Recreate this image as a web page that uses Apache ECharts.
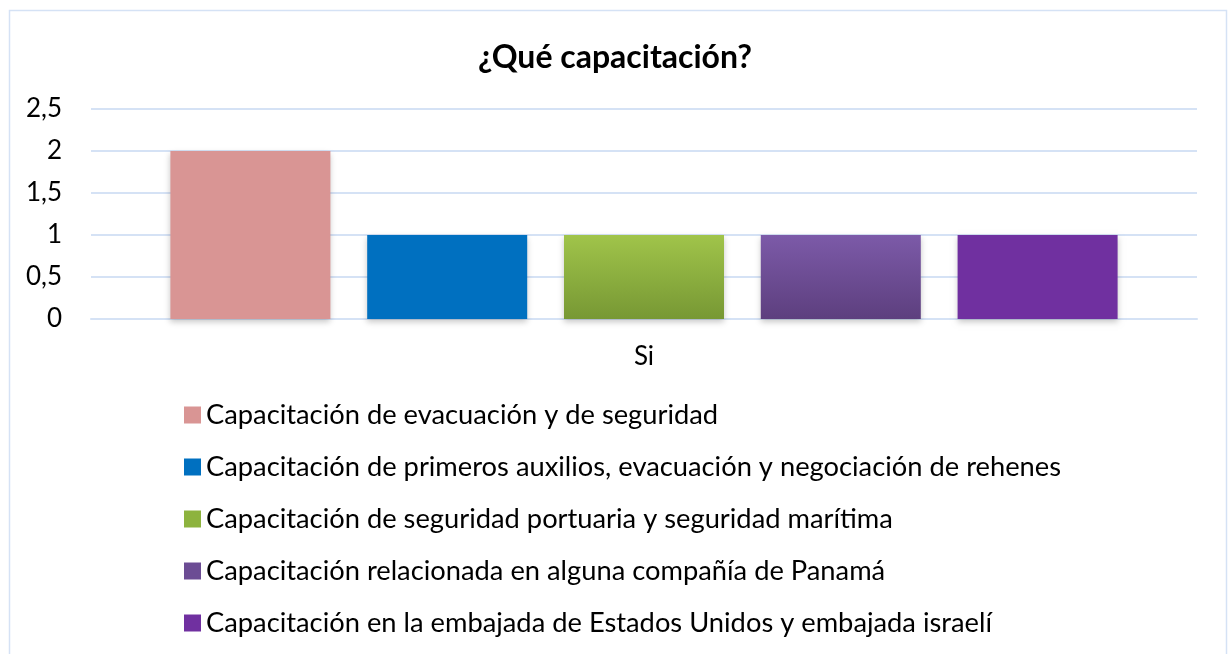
<!DOCTYPE html>
<html>
<head>
<meta charset="utf-8">
<script src="https://cdn.jsdelivr.net/npm/echarts@6/dist/echarts.min.js"></script>
<style>
  html, body { margin: 0; padding: 0; background: #fff; }
  #chart { width: 1230px; height: 654px; }
</style>
</head>
<body>
<div id="chart"></div>
<script>
const categories = ['Si'];
const seriesNames = [
    'Capacitación de evacuación y de seguridad',
    'Capacitación de primeros auxilios, evacuación y negociación de rehenes',
    'Capacitación de seguridad portuaria y seguridad marítima',
    'Capacitación relacionada en alguna compañía de Panamá',
    'Capacitación en la embajada de Estados Unidos y embajada israelí'
];
const seriesValues = [[2], [1], [1], [1], [1]];
const yTicks = ['0', '0,5', '1', '1,5', '2', '2,5'];

const chart = echarts.init(document.getElementById('chart'));
const font = 'Lato, "Open Sans", sans-serif';

// colores de cada serie (algunas con degradado vertical)
const colors = [
    '#d99594',
    '#0070c0',
    new echarts.graphic.LinearGradient(0, 0, 0, 1, [
        { offset: 0, color: '#a0c44a' },
        { offset: 1, color: '#779834' }
    ]),
    new echarts.graphic.LinearGradient(0, 0, 0, 1, [
        { offset: 0, color: '#7c5aa8' },
        { offset: 1, color: '#5d3f7e' }
    ]),
    '#7030a0'
];
const legendColors = ['#d99594', '#0070c0', '#8db33e', '#6c4c94', '#7030a0'];

const series = seriesNames.map((name, i) => ({
    name: name,
    type: 'bar',
    data: seriesValues[i],
    barWidth: 160,
    barGap: '23%',
    itemStyle: {
        color: colors[i],
        shadowColor: 'rgba(0,0,0,0.22)',
        shadowBlur: 6,
        shadowOffsetY: 3
    },
    emphasis: { disabled: true }
}));

const option = {
    animation: false,
    color: legendColors,
    title: {
        text: '¿Qué capacitación?',
        left: 'center',
        top: 37,
        textStyle: { fontFamily: font, fontSize: 32, fontWeight: 'bold', color: '#000' }
    },
    graphic: [{
        type: 'rect',
        shape: { x: 9.5, y: 10.5, width: 1217, height: 700 },
        style: { fill: 'none', stroke: '#d5e2f5', lineWidth: 1.5 },
        silent: true
    }],
    grid: { left: 91, right: 33, top: 109, height: 210 },
    legend: {
        orient: 'vertical',
        left: 179,
        top: 395,
        itemWidth: 17,
        itemHeight: 17,
        itemGap: 22,
        itemTextGap: 9,
        icon: 'rect',
        selectedMode: false,
        data: seriesNames.map((n, i) => ({ name: n, itemStyle: { color: legendColors[i] } })),
        textStyle: { fontFamily: font, fontSize: 27.3, lineHeight: 30, color: '#000' }
    },
    xAxis: {
        type: 'category',
        data: categories,
        axisLine: { lineStyle: { color: '#d5e2f5', width: 2 } },
        axisTick: { show: false },
        axisLabel: { fontFamily: font, fontSize: 26, color: '#000', margin: 25 }
    },
    yAxis: {
        type: 'value',
        min: 0,
        max: 2.5,
        interval: 0.5,
        axisLine: { show: false },
        axisTick: { show: false },
        splitLine: { lineStyle: { color: '#d5e2f5', width: 2 } },
        axisLabel: {
            fontFamily: font,
            fontSize: 26,
            color: '#000',
            margin: 29,
            formatter: v => yTicks[Math.round(v / 0.5)]
        }
    },
    series: series
};
chart.setOption(option);
</script>
</body>
</html>
